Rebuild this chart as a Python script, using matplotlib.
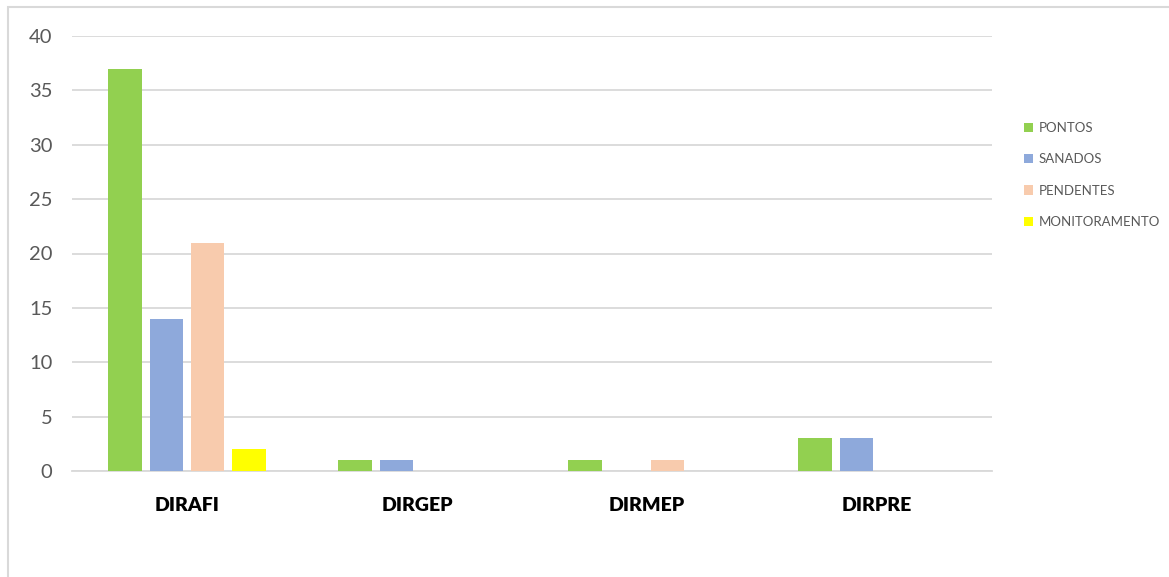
import numpy as np
import matplotlib.pyplot as plt
from matplotlib.patches import Rectangle

plt.rcParams["font.family"] = ["Lato", "DejaVu Sans"]

categories = ["DIRAFI", "DIRGEP", "DIRMEP", "DIRPRE"]
series = ["PONTOS", "SANADOS", "PENDENTES", "MONITORAMENTO"]
pontos = [37, 1, 1, 3]
sanados = [14, 1, 0, 3]
pendentes = [21, 0, 1, 0]
monitoramento = [2, 0, 0, 0]
colors = ["#92D050", "#8EA9DB", "#F8CBAD", "#FFFF00"]

fig = plt.figure(figsize=(11.69, 5.77), dpi=100)
ax = fig.add_axes([72 / 1169, 1 - 471 / 577, 920 / 1169, 435 / 577])

# light border of the chart area
fig.patches.append(Rectangle((8 / 1169, -0.1), 1.2, 1 - 7 / 577 + 0.1,
                             transform=fig.transFigure, fill=False,
                             edgecolor="#D9D9D9", lw=1.5))

x = np.arange(len(categories)) + 0.5
step = 0.18
width = 0.145
handles = []
for i, (vals, c, name) in enumerate(zip([pontos, sanados, pendentes, monitoramento], colors, series)):
    b = ax.bar(x + (i - 1.5) * step, vals, width=width, color=c, label=name, zorder=3)
    handles.append(b)

ax.set_xlim(0, 4)
ax.set_ylim(0, 40)
ax.set_yticks(range(0, 41, 5))
ax.yaxis.grid(True, color="#D9D9D9", lw=1.3, zorder=0)
ax.set_axisbelow(True)
for s in ["top", "right", "left"]:
    ax.spines[s].set_visible(False)
ax.spines["bottom"].set_color("#D9D9D9")
ax.spines["bottom"].set_linewidth(1.3)

ax.set_xticks(x)
ax.set_xticklabels(categories, fontsize=14, fontweight="heavy", color="black")
ax.tick_params(axis="x", length=0, pad=19)
ax.tick_params(axis="y", length=0, pad=14, labelsize=14.5, labelcolor="#595959")

fig.legend(handles=handles, loc="upper left", bbox_to_anchor=(1012 / 1169, 1 - 110 / 577),
           frameon=False, fontsize=9.5, labelcolor="#595959", labelspacing=1.47,
           handlelength=0.7, handleheight=0.7, handletextpad=0.4)

fig.savefig("out.png", dpi=100)
